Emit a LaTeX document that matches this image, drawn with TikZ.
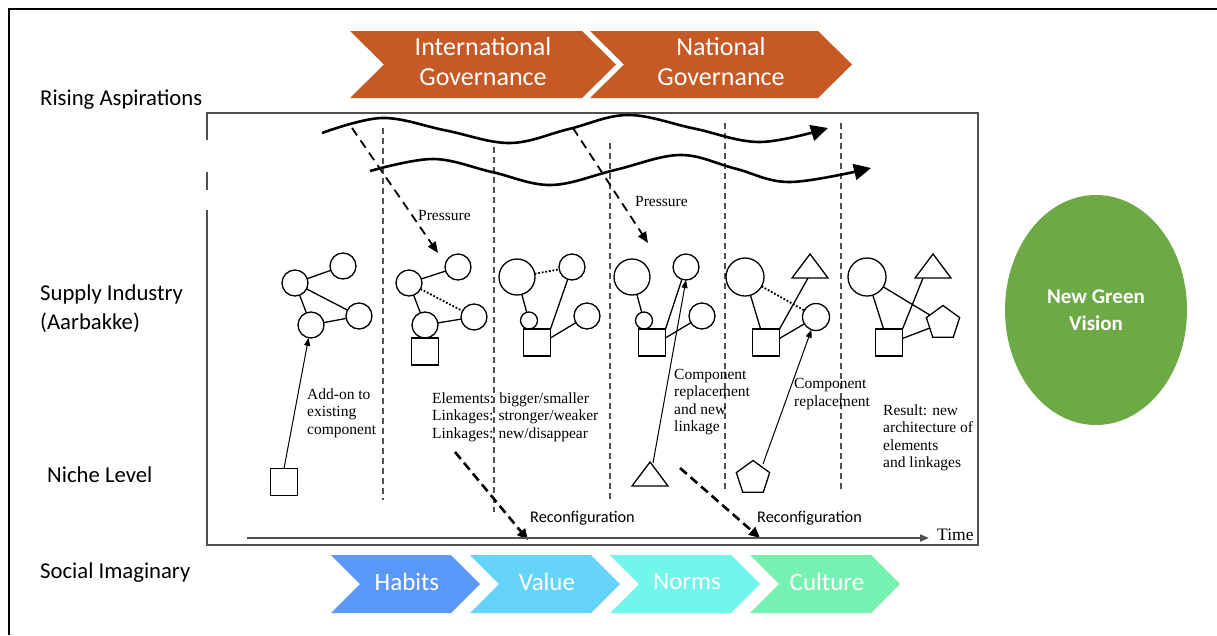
\documentclass[tikz,border=0pt]{standalone}
\usepackage{fontspec}
\setmainfont{Carlito}
\newfontfamily\serifA{Liberation Serif}
\usetikzlibrary{arrows.meta,shapes.geometric,calc}
\definecolor{orng}{HTML}{C55A26}
\definecolor{gvis}{HTML}{6DAA45}
\definecolor{chA}{HTML}{5A98FA}
\definecolor{chB}{HTML}{66D3FA}
\definecolor{chC}{HTML}{72F5EA}
\definecolor{chD}{HTML}{75F2B2}
\definecolor{boxgray}{HTML}{505050}
\begin{document}
\begin{tikzpicture}[x=1pt,y=-1pt,
  elem/.style={draw, line width=1.3pt, inner sep=0pt, outer sep=0pt},
  circ/.style={elem, circle},
  sqr/.style={elem, rectangle, minimum size=27pt},
  pent/.style={elem, regular polygon, regular polygon sides=5, minimum size=35pt},
  link/.style={line width=1.3pt},
  weak/.style={line width=1.8pt, dash pattern=on 1.8pt off 1.8pt},
  sepline/.style={line width=1.2pt, dash pattern=on 6pt off 4pt, boxgray},
  wave/.style={line width=2.6pt, -{Triangle[length=17pt,width=16pt]}},
  press/.style={line width=1.8pt, dash pattern=on 9pt off 6pt, -{Triangle[length=11pt,width=9pt]}},
  reconf/.style={line width=2.6pt, dash pattern=on 9pt off 5pt, -{Triangle[length=11pt,width=10pt]}},
  thinarr/.style={line width=1pt, -{Triangle[length=8pt,width=6pt]}},
  lbl/.style={font=\fontsize{22.7}{28}\selectfont, anchor=west, inner sep=0pt},
  stxt/.style={font=\serifA\fontsize{15.5}{17.5}\selectfont, align=left, anchor=west, inner sep=0pt},
  rtxt/.style={font=\fontsize{16.3}{20}\selectfont, anchor=west, inner sep=0pt},
  toptxt/.style={font=\fontsize{26}{30}\selectfont, text=white, align=center, inner sep=0pt},
  bottxt/.style={font=\fontsize{25}{30}\selectfont, text=white, inner sep=0pt}
]
\useasboundingbox (0,0) rectangle (1217,635);
\fill[white] (0,0) rectangle (1217,635);

% outer frame
\draw[line width=2pt] (9,635) -- (9,9) -- (1217,9);

% left labels
\node[lbl] (risasp) at (40,100) {Rising Aspirations};
\node[lbl] (supind) at (40,294) {Supply Industry};
\node[lbl] (aarb) at (40,323) {(Aarbakke)};
\node[lbl] (niche) at (47,475) {Niche Level};
\node[lbl] (socim) at (40,573) {Social Imaginary};

% top chevrons
\fill[orng] (350,31) -- (582,31) -- (616,64.5) -- (582,98) -- (350,98) -- (384,64.5) -- cycle;
\fill[orng] (590,31) -- (818,31) -- (852,64.5) -- (818,98) -- (590,98) -- (624,64.5) -- cycle;
\node[toptxt] (intgov) at (483,62) {International\\Governance};
\node[toptxt] (natgov) at (721,62) {National\\Governance};

% bottom chevrons
\fill[chA] (331,555) -- (451,555) -- (480,584) -- (451,613) -- (331,613) -- (360,584) -- cycle;
\fill[chB] (470,555) -- (591,555) -- (620,584) -- (591,613) -- (470,613) -- (499,584) -- cycle;
\fill[chC] (610,555) -- (731,555) -- (760,584) -- (731,613) -- (610,613) -- (639,584) -- cycle;
\fill[chD] (750,555) -- (871,555) -- (900,584) -- (871,613) -- (750,613) -- (779,584) -- cycle;
\node[bottxt] (habits) at (407,582) {Habits};
\node[bottxt] (value) at (547,582) {Value};
\node[bottxt] (norms) at (687,582) {Norms};
\node[bottxt] (culture) at (827,582) {Culture};

% green vision
\node[ellipse, fill=gvis, minimum width=182pt, minimum height=230pt, text=white,
      font=\bfseries\fontsize{21}{27}\selectfont, align=center] (vision) at (1096,310) {New Green\\Vision};

% inner picture box
\draw[line width=1.3pt, boxgray] (207,210) -- (207,545) -- (978,545) -- (978,113) -- (207,113) -- (207,140);
\draw[line width=1.3pt, boxgray] (207,172) -- (207,190);

% period separators
\draw[sepline] (383,128) -- (383,500);
\draw[sepline] (494,147) -- (494,512);
\draw[sepline] (610,143) -- (610,502);
\draw[sepline] (725,123) -- (725,490);
\draw[sepline] (841,123) -- (841,490);

% waves
\draw[wave] plot[smooth, tension=0.6] coordinates {(322,133) (382,118) (446,130.5) (510,143) (569,129) (628,115) (694,128.5) (760,142) (828,128)};
\draw[wave] plot[smooth, tension=0.6] coordinates {(370,171) (433,159) (492,172) (551,185) (615,170) (680,155) (735,168.5) (790,182) (871,168)};

% pressure
\coordinate (ps1) at (352,128);
\coordinate (pe1) at (438,253);
\coordinate (ps2) at (573,128);
\coordinate (pe2) at (648,243);
\draw[press] (ps1) -- (pe1);
\draw[press] (ps2) -- (pe2);
\node[stxt] (press1) at (418,215) {Pressure};
\node[stxt] (press2) at (635,201) {Pressure};

% cluster 1
\node[circ, minimum size=26pt] (cA) at (295,283) {};
\node[circ, minimum size=26pt] (cB) at (343,266) {};
\node[circ, minimum size=26pt] (cC) at (311,325) {};
\node[circ, minimum size=26pt] (cD) at (359,316) {};
\draw[link] (cA) -- (cB);
\draw[link] (cA) -- (cC);
\draw[link] (cA) -- (cD);
\draw[link] (cC) -- (cD);

% cluster 2
\node[circ, minimum size=26pt] (cE) at (409,283) {};
\node[circ, minimum size=26pt] (cF) at (458,267) {};
\node[circ, minimum size=26pt] (cG) at (425,325) {};
\node[circ, minimum size=26pt] (cH) at (474,317) {};
\node[sqr] (sq2) at (425,351.5) {};
\draw[link] (cE) -- (cF);
\draw[link] (cE) -- (cG);
\draw[link] (cG) -- (cH);
\draw[weak] (cE) -- (cH);

% cluster 3
\node[circ, minimum size=36pt] (cI) at (517,277) {};
\node[circ, minimum size=26pt] (cJ) at (572,267) {};
\node[circ, minimum size=17pt] (cK) at (529,320.5) {};
\node[circ, minimum size=26pt] (cL) at (587,316) {};
\node[sqr] (sq3) at (537,342.5) {};
\draw[weak] (cI) -- (cJ);
\draw[link] (cI) -- (cK);
\draw[link] (cJ) -- (sq3.north east);
\draw[link] (cL) -- ($(sq3.north east)!0.33!(sq3.south east)$);

% cluster 4
\node[circ, minimum size=36pt] (cM) at (632,277) {};
\node[circ, minimum size=26pt] (cN) at (686,267) {};
\node[circ, minimum size=17pt] (cO) at (644,320.5) {};
\node[circ, minimum size=26pt] (cP) at (702,316) {};
\node[sqr] (sq4) at (652,342.5) {};
\draw[link] (cM) -- (cO);
\draw[link] (cN) -- (sq4.north east);
\draw[link] (cP) -- ($(sq4.north east)!0.33!(sq4.south east)$);

% cluster 5
\node[circ, minimum size=38pt] (cQ) at (745,277) {};
\draw[link] (810,254) -- (828,278) -- (792,278) -- cycle;
\coordinate (tR) at (808,278);
\node[circ, minimum size=27pt] (cS) at (816,317) {};
\node[sqr] (sq5) at (766,342.5) {};
\draw[link] (cQ) -- ($(sq5.north west)!0.3!(sq5.north east)$);
\draw[weak] (cQ) -- (cS);
\draw[link] (tR) -- (sq5.north east);
\draw[link] (cS) -- ($(sq5.north east)!0.35!(sq5.south east)$);

% cluster 6
\node[circ, minimum size=38pt] (cT) at (867,277) {};
\draw[link] (933,254) -- (951,278) -- (915,278) -- cycle;
\coordinate (tU) at (923,278);
\node[pent] (pV) at (943,323) {};
\node[sqr] (sq6) at (889,342.5) {};
\draw[link] (cT) -- ($(sq6.north west)!0.3!(sq6.north east)$);
\draw[link] (cT) -- (pV);
\draw[link] (tU) -- (sq6.north east);
\draw[link] (pV) -- ($(sq6.north east)!0.35!(sq6.south east)$);

% niche elements
\node[sqr] (sq1) at (284,482) {};
\draw[link] (650,462) -- (668,486) -- (632,486) -- cycle;
\coordinate (tri4) at (653,463);
\node[pent] (pn5) at (753,478) {};
\coordinate (pn5s) at (763,464);

\draw[thinarr] (sq1.north) -- (cC);
\draw[thinarr] (tri4) -- (cN.south);
\draw[thinarr] (pn5s) -- (cS);

% texts
\node[stxt] (addon) at (307,413) {Add-on to\\existing\\component};
\node[stxt] (elems) at (432,417) {Elements: bigger/smaller\\Linkages: stronger/weaker\\Linkages: new/disappear};
\node[stxt] (comprep1) at (674,402) {Component\\replacement\\and new\\linkage};
\node[stxt] (comprep2) at (794,394) {Component\\replacement};
\node[stxt] (result) at (883,438) {Result: new\\architecture of\\elements\\and linkages};

% reconfiguration
\coordinate (rs1) at (455,452);
\coordinate (re1) at (528,540);
\coordinate (rs2) at (680,468);
\coordinate (re2) at (760,538);
\draw[reconf] (rs1) -- (re1);
\draw[reconf] (rs2) -- (re2);
\node[rtxt] (rec1) at (530,518) {Reconfiguration};
\node[rtxt] (rec2) at (757,518) {Reconfiguration};

% time axis
\coordinate (ts) at (247,538);
\coordinate (te) at (929,538);
\draw[line width=2pt, boxgray, -{Triangle[length=9pt,width=7pt]}] (ts) -- (te);
\node[font=\serifA\fontsize{17.5}{20}\selectfont, anchor=west, inner sep=0pt] (time) at (937,535) {Time};
\end{tikzpicture}
\end{document}
